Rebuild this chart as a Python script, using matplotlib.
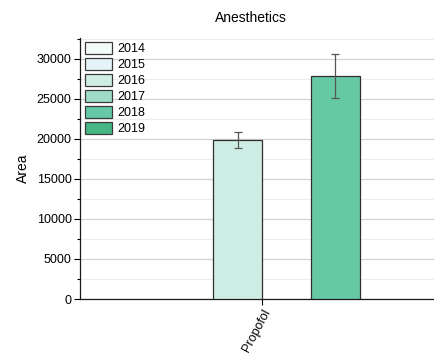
import numpy as np
import matplotlib
matplotlib.use("Agg")
import matplotlib.pyplot as plt
from matplotlib.patches import Patch
from matplotlib.ticker import MultipleLocator

plt.rcParams['font.family'] = ['Liberation Sans', 'DejaVu Sans']

categories = ["Propofol"]
years = ["2014", "2015", "2016", "2017", "2018", "2019"]
values = [0, 0, 19900, 0, 27900, 0]
errors = [0, 0, 1000, 0, 2750, 0]
colors = ["#f3fbf9", "#e4f3f7", "#ceeee5", "#9edcc8", "#66c9a6", "#47b685"]

fig = plt.figure(figsize=(4.35, 3.58), dpi=100)
ax = fig.add_axes([80 / 435, 1 - 299 / 358, 364 / 435, 261 / 358])

n = len(years)
w = 1.0
x0 = 0.0
handles = []
for i, (yr, v, e, c) in enumerate(zip(years, values, errors, colors)):
    pos = x0 + (i - (n - 1) / 2) * w
    if v > 0:
        ax.bar(pos, v, width=w, color=c, edgecolor="#2f2f2f", linewidth=0.9,
               zorder=3)
        ax.errorbar(pos, v, yerr=e, fmt="none", ecolor="#555555",
                    elinewidth=0.9, capsize=3, capthick=0.9, zorder=4)
    handles.append(Patch(facecolor=c, edgecolor="#3a3a3a", linewidth=0.9,
                         label=yr))

ax.set_xlim(-3.73, 3.73)
ax.set_ylim(0, 32600)
ax.set_xticks([x0])
ax.set_xticklabels(categories, rotation=62, ha="right", rotation_mode="anchor",
                   fontsize=9)

ax.yaxis.set_major_locator(MultipleLocator(5000))
ax.yaxis.set_minor_locator(MultipleLocator(2500))
ax.tick_params(axis="y", which="major", direction="out", length=4, width=0.8,
               labelsize=9, pad=2)
ax.tick_params(axis="y", which="minor", direction="out", length=2.5, width=0.8)
ax.tick_params(axis="x", which="major", direction="out", length=4, width=0.8,
               pad=2)

ax.grid(axis="y", which="major", color="#d2d2d2", linewidth=0.9, zorder=0)
ax.grid(axis="y", which="minor", color="#ededed", linewidth=0.9, zorder=0)
ax.set_axisbelow(True)

for s in ("top", "right"):
    ax.spines[s].set_visible(False)
for s in ("left", "bottom"):
    ax.spines[s].set_color("#1a1a1a")
    ax.spines[s].set_linewidth(0.9)

ax.set_ylabel("Area", fontsize=10, labelpad=5)
fig.text(251 / 435, 1 - 18 / 358, "Anesthetics", ha="center", va="center",
         fontsize=10)

leg = ax.legend(handles=handles, loc="upper left",
                bbox_to_anchor=(5 / 364, 1 - 4 / 261), frameon=False,
                fontsize=9, handlelength=2.2, handleheight=1.1,
                labelspacing=0.22, handletextpad=0.4, borderaxespad=0.0,
                borderpad=0.0)

fig.savefig("out.png", dpi=100)
